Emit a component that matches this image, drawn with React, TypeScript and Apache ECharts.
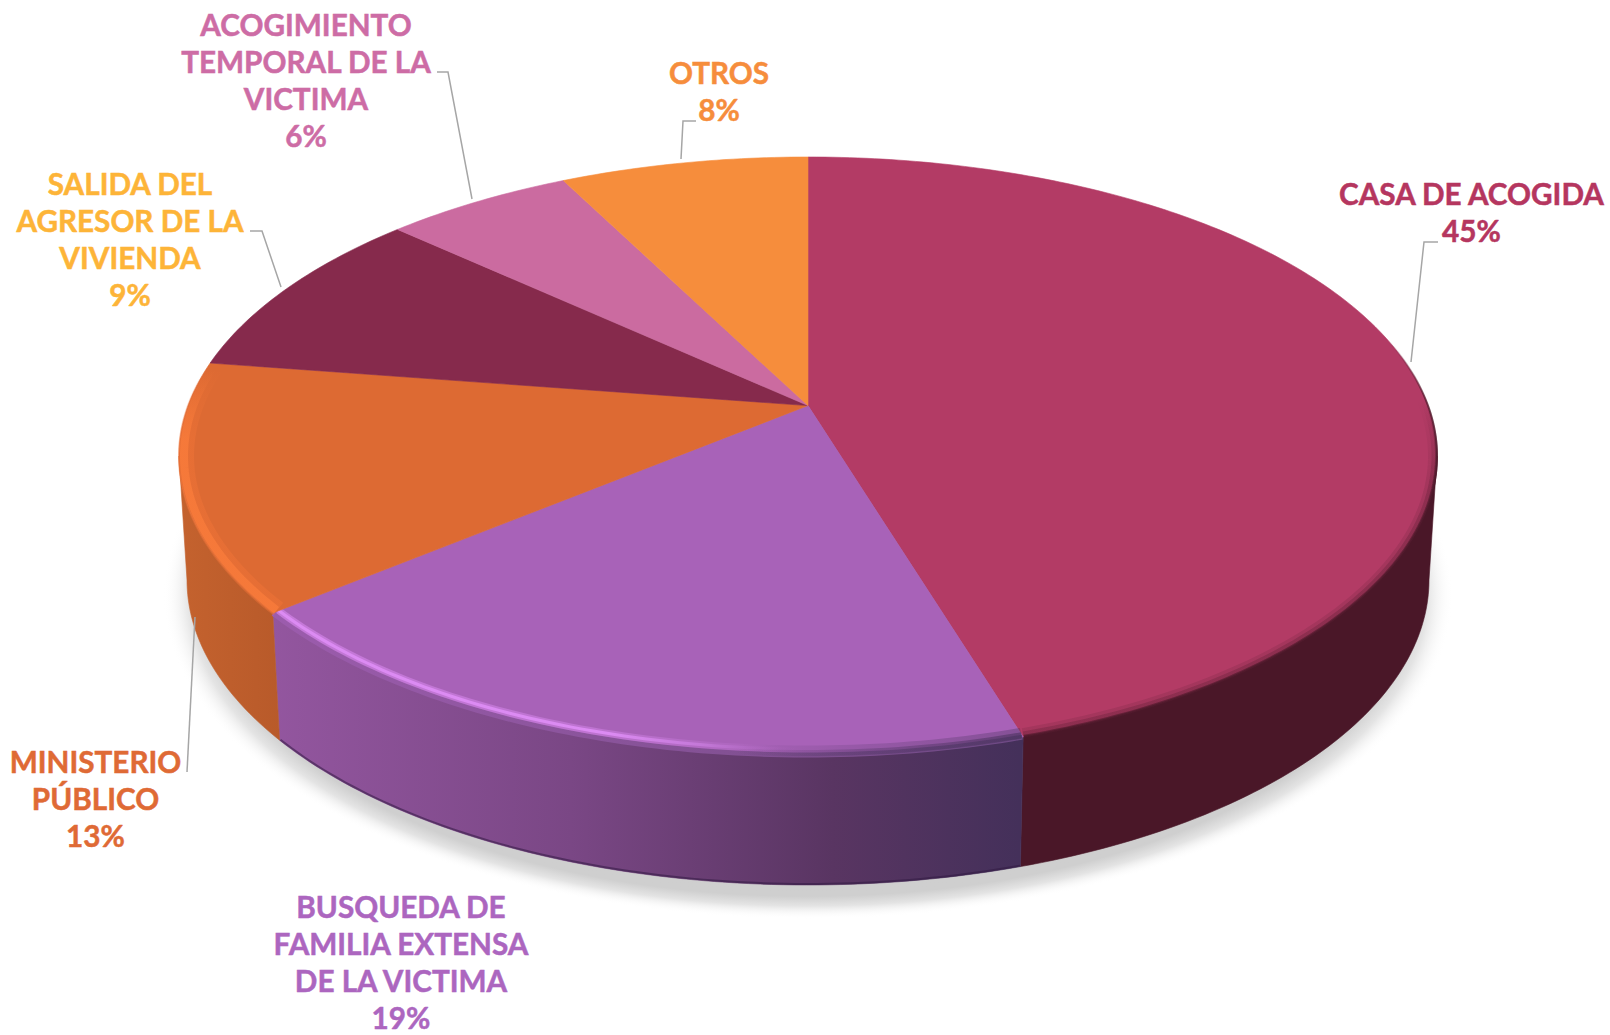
import React, { useEffect, useRef } from "react";
import * as echarts from "echarts";

const categoryLines: string[][] = [
  ["CASA DE ACOGIDA"],
  ["BUSQUEDA DE", "FAMILIA EXTENSA", "DE LA VICTIMA"],
  ["MINISTERIO", "PÚBLICO"],
  ["SALIDA DEL", "AGRESOR DE LA", "VIVIENDA"],
  ["ACOGIMIENTO", "TEMPORAL DE LA", "VICTIMA"],
  ["OTROS"],
];
const seriesValues = [45.3, 18.7, 13.4, 9.4, 5.7, 7.5];
const sliceColors = ["#b33b65", "#a862b8", "#dd6a33", "#862a4c", "#cb6ba0", "#f68d3c"];
const labelColors = ["#b5365f", "#ac66bf", "#df6a35", "#fdb438", "#cd6ca5", "#f68d3c"];

// Layout only
const labelAnchors = [
  [1471.5, 212],
  [401, 961.5],
  [95.5, 798.5],
  [130, 239],
  [306, 79.5],
  [719, 91],
];
const LINE_STEP = 37;
const leaderLines = [
  [[1411, 362], [1424, 242], [1438, 242]],
  null,
  [[195, 617], [187, 772]],
  [[281, 287], [262, 231], [250, 231]],
  [[472, 199], [448, 72], [437, 72]],
  [[681, 159], [683, 121], [696, 121]],
];
const TOP = { cx: 808, cy: 456, rx: 629, ry: 299 };
const BOTTOM = { cx: 808, cy: 580, rx: 621, ry: 305 };
const D = 0.1686;
const S = Math.sqrt(1 - D * D);
// The rim's side is only seen between the two outermost points of the ellipse
const VISIBLE_FROM = (Math.acos(-D) / (2 * Math.PI)) * 100;
const VISIBLE_TO = 100 - VISIBLE_FROM;

type Ell = { cx: number; cy: number; rx: number; ry: number };
function project(e: Ell, pct: number, inset = 0): number[] {
  const t = (2 * Math.PI * pct) / 100;
  const u = Math.sin(t);
  const v = -Math.cos(t);
  const den = 1 - D * v;
  return [e.cx + ((u * S) / den) * (e.rx - inset), e.cy + ((v - D) / den) * (e.ry - inset)];
}
function arc(e: Ell, a: number, b: number, inset = 0): number[][] {
  const n = Math.max(2, Math.ceil((b - a) * 4));
  const pts: number[][] = [];
  for (let i = 0; i <= n; i++) pts.push(project(e, a + ((b - a) * i) / n, inset));
  return pts;
}
const lin = (x: number, y: number, x2: number, y2: number, stops: [number, string][]) => ({
  type: "linear",
  x,
  y,
  x2,
  y2,
  global: true,
  colorStops: stops.map(([offset, color]) => ({ offset, color })),
});

const sideFills: any[] = [
  "#4a1728",
  lin(272, 0, 1020, 0, [
    [0, "#93569f"],
    [0.4, "#7a4785"],
    [0.75, "#593562"],
    [1, "#44305a"],
  ]),
  lin(180, 0, 282, 0, [
    [0, "#c4622e"],
    [1, "#b85a2a"],
  ]),
  "#5a1f33",
  "#8a4a70",
  "#a8602c",
];

// Bevel along the rim of the top face
const bevels: any[] = [
  [
    { c: lin(0, 400, 0, 480, [[0, "rgba(74,23,40,0)"], [1, "rgba(74,23,40,0.14)"]]), w: 10, i: 4, from: 14 },
    { c: lin(0, 400, 0, 480, [[0, "rgba(74,23,40,0)"], [1, "rgba(74,23,40,0.25)"]]), w: 6, i: 2.5, from: 14 },
    { c: lin(0, 400, 0, 480, [[0, "rgba(74,23,40,0)"], [1, "rgba(74,23,40,0.6)"]]), w: 3, i: 0.5, from: 14 },
    { c: lin(0, 340, 0, 400, [[0, "rgba(74,23,40,0)"], [1, "rgba(74,23,40,0.7)"]]), w: 2, i: 0, from: 12 },
  ],
  [
    { c: lin(272, 0, 1020, 0, [[0, "#9c5cad"], [0.7, "#7f4f90"], [1, "#6f4a86"]]), w: 5, i: 0 },
    { c: lin(272, 0, 1020, 0, [[0, "rgba(70,48,90,0)"], [0.62, "rgba(70,48,90,0)"], [0.8, "rgba(80,52,100,0.22)"], [1, "rgba(70,48,90,0.35)"]]), w: 11, i: 4 },
    { c: lin(272, 0, 1020, 0, [[0, "rgba(70,48,90,0)"], [0.62, "rgba(70,48,90,0)"], [0.8, "rgba(80,52,100,0.35)"], [1, "rgba(70,48,90,0.55)"]]), w: 6, i: 2 },
    { c: lin(272, 0, 1020, 0, [[0, "rgba(222,140,245,0.55)"], [0.45, "rgba(222,140,245,0.4)"], [0.68, "rgba(222,140,245,0)"]]), w: 7, i: 6 },
    { c: lin(272, 0, 1020, 0, [[0, "#dc8bf3"], [0.45, "#dc8bf3"], [0.58, "#c277d6"], [0.7, "rgba(168,98,184,0)"]]), w: 3, i: 6 },
  ],
  [
    { c: lin(0, 370, 0, 440, [[0, "rgba(242,116,55,0)"], [1, "rgba(242,116,55,0.45)"]]), w: 16, i: 7 },
    { c: lin(0, 370, 0, 440, [[0, "rgba(247,122,58,0)"], [1, "rgba(247,122,58,0.9)"]]), w: 8, i: 5 },
  ],
];

const cumulative = seriesValues.map((_, i) => seriesValues.slice(0, i).reduce((s, v) => s + v, 0));
const chartData = seriesValues.map((v, i) => [v, cumulative[i]]);

function sideItem(p: any, api: any) {
  const i = p.dataIndex;
  const v = api.value(0);
  const s = api.value(1);
  const a = Math.max(s, VISIBLE_FROM);
  const b = Math.min(s + v, VISIBLE_TO);
  if (b <= a) return { type: "group", children: [] };
  const children: any[] = [
    {
      type: "polygon",
      shape: { points: [...arc(TOP, a, b), ...arc(BOTTOM, a, b).reverse()] },
      style: { fill: sideFills[i], stroke: sideFills[i], lineWidth: 0.6 },
    },
  ];
  if (i === 1) {
    children.push({
      type: "polyline",
      shape: { points: arc(BOTTOM, a, b, 1) },
      style: { fill: null, stroke: "rgba(50,25,65,0.55)", lineWidth: 2 },
    });
  }
  return { type: "group", children };
}

function topItem(p: any, api: any) {
  const i = p.dataIndex;
  const v = api.value(0);
  const s = api.value(1);
  const center = [TOP.cx, TOP.cy - D * TOP.ry];
  const children: any[] = [
    {
      type: "polygon",
      shape: { points: [center, ...arc(TOP, s, s + v)] },
      style: { fill: sliceColors[i], stroke: sliceColors[i], lineWidth: 0.6 },
    },
  ];
  (bevels[i] || []).forEach((b: any) => {
    children.push({
      type: "polyline",
      shape: { points: arc(TOP, Math.max(s + 0.02, b.from ?? 0), s + v - 0.02, b.i) },
      style: { fill: null, stroke: b.c, lineWidth: b.w },
    });
  });
  return { type: "group", children };
}

function labelItem(p: any, api: any) {
  const i = p.dataIndex;
  const v = api.value(0);
  const children: any[] = [];
  const line = leaderLines[i];
  if (line) {
    children.push({
      type: "polyline",
      shape: { points: line },
      style: { fill: null, stroke: "#a6a6a6", lineWidth: 1.5 },
    });
  }
  const lines = [...categoryLines[i], `${Math.round(v)}%`];
  lines.forEach((text, k) => {
    children.push({
      type: "text",
      style: {
        text,
        x: labelAnchors[i][0],
        y: labelAnchors[i][1] + (k - (lines.length - 1) / 2) * LINE_STEP,
        fill: labelColors[i],
        stroke: labelColors[i],
        lineWidth: 0.5,
        font: 'bold 29.7px Lato, "Noto Sans", sans-serif',
        align: "center",
        verticalAlign: "middle",
      },
    });
  });
  return { type: "group", children };
}

export default function App() {
  const ref = useRef<HTMLDivElement>(null);
  useEffect(() => {
    document.body.style.margin = "0";
    document.body.style.overflow = "hidden";
    const chart = echarts.init(ref.current!, undefined, { renderer: "svg" });
    chart.setOption({
      animation: false,
      backgroundColor: "#ffffff",
      tooltip: { show: false },
      graphic: [
        {
          type: "ellipse",
          silent: true,
          shape: { cx: 808, cy: 595, rx: 645, ry: 324 },
          style: {
            fill: {
              type: "radial",
              x: 0.5,
              y: 0.5,
              r: 0.5,
              colorStops: [
                { offset: 0, color: "#cccccc" },
                { offset: 0.93, color: "#cfcfcf" },
                { offset: 0.96, color: "#e4e4e4" },
                { offset: 1, color: "rgba(255,255,255,0)" },
              ],
            },
          },
        },
      ],
      series: [
        { type: "custom", coordinateSystem: "none", silent: true, renderItem: sideItem, data: chartData, z: 2 },
        { type: "custom", coordinateSystem: "none", silent: true, renderItem: topItem, data: chartData, z: 3 },
        { type: "custom", coordinateSystem: "none", silent: true, renderItem: labelItem, data: chartData, z: 4 },
      ],
    });
    return () => chart.dispose();
  }, []);
  return <div ref={ref} style={{ position: "absolute", left: 0, top: 0, width: 1610, height: 1035 }} />;
}
